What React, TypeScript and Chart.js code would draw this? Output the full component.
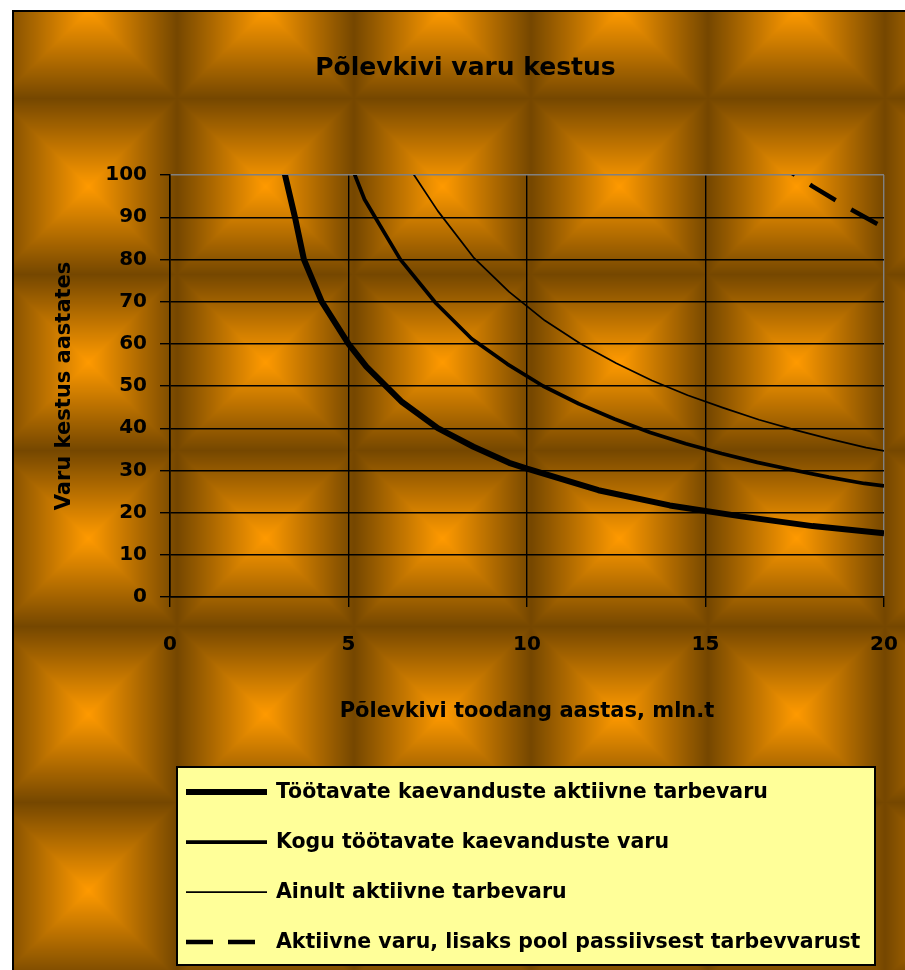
import React, { useEffect, useRef } from 'react';
import { Chart, registerables } from 'chart.js';

Chart.register(...registerables);

// ---------- text ----------
const chartTitle = 'Põlevkivi varu kestus';
const xAxisTitle = 'Põlevkivi toodang aastas, mln.t';
const yAxisTitle = 'Varu kestus aastates';

const seriesLabels = [
  'Töötavate kaevanduste aktiivne tarbevaru',
  'Kogu töötavate kaevanduste varu',
  'Ainult aktiivne tarbevaru',
  'Aktiivne varu, lisaks pool passiivsest tarbevvarust',
];

// ---------- axes ----------
const xMin = 0;
const xMax = 20;
const xStep = 5;
const yMin = 0;
const yMax = 100;
const yStep = 10;

// ---------- data (production mln t/year -> years) ----------
const activeMinesX = [3.0, 3.5, 3.75, 4.25, 5, 5.5, 6.5, 7.5, 8.5, 9.5, 10, 12, 14, 16, 18, 20];
const activeMinesY = [108, 90, 80, 70, 60, 54.6, 46.2, 40, 35.6, 31.8, 30.4, 25.3, 21.7, 19.1, 16.8, 15.1];

const totalMinesX = [5.0, 5.45, 6.45, 7.45, 8.45, 9.45, 10.45, 11.45, 12.45, 13.45, 14.45, 15.45, 16.45, 17.45, 18.45, 19.45, 20];
const totalMinesY = [103.8, 94.2, 80, 69.6, 61.2, 55.2, 50, 45.8, 42.2, 39, 36.3, 34, 31.9, 30.1, 28.4, 26.9, 26.3];

const activeOnlyX = [6.5, 7.5, 8.5, 9.5, 10.5, 11.5, 12.5, 13.5, 14.5, 15.5, 16.5, 17.5, 18.5, 19.5, 20];
const activeOnlyY = [104.3, 91.5, 80.5, 72.3, 65.5, 60, 55.4, 51.3, 47.8, 44.8, 42, 39.6, 37.4, 35.4, 34.6];

const activePlusHalfX = [17, 18, 19, 20];
const activePlusHalfY = [102.8, 97.3, 92.2, 87.5];

// ---------- styling ----------
const FONT = "'DejaVu Sans', sans-serif";
const W = 893;
const H = 960;

function zip(xs: number[], ys: number[]) {
  return xs.map((x, i) => ({ x, y: ys[i] }));
}

let bgCache: ImageData | null = null;

const backgroundPlugin = {
  id: 'texturedBackground',
  beforeDraw(chart: any) {
    const ctx: CanvasRenderingContext2D = chart.ctx;
    const w = chart.width;
    const h = chart.height;
    if (!bgCache || bgCache.width !== w || bgCache.height !== h) {
      const img = ctx.createImageData(w, h);
      const d = img.data;
      const px = 177;
      const py = 176;
      const cx0 = 76;
      const cy0 = 0;
      const bright = [255, 154, 0];
      const dark = [117, 71, 0];
      for (let y = 0; y < h; y++) {
        let dy = (((y - cy0) % py) + py) % py;
        if (dy > py / 2) dy = py - dy;
        const ty = dy / (py / 2);
        for (let x = 0; x < w; x++) {
          let dx = (((x - cx0) % px) + px) % px;
          if (dx > px / 2) dx = px - dx;
          const tx = dx / (px / 2);
          const f = Math.max(tx, ty);
          const k = (y * w + x) * 4;
          d[k] = bright[0] + (dark[0] - bright[0]) * f;
          d[k + 1] = bright[1] + (dark[1] - bright[1]) * f;
          d[k + 2] = bright[2] + (dark[2] - bright[2]) * f;
          d[k + 3] = 255;
        }
      }
      bgCache = img;
    }
    ctx.putImageData(bgCache, 0, 0);
    ctx.save();
    ctx.fillStyle = '#000';
    ctx.fillRect(0, 0, w, 2);
    ctx.fillRect(0, 0, 2, h);
    ctx.restore();
  },
};

const legendDash = [27, 15];

const legendPlugin = {
  id: 'boxLegend',
  afterDraw(chart: any) {
    const ctx: CanvasRenderingContext2D = chart.ctx;
    const x0 = 165;
    const y0 = 757;
    const bw = 698;
    const bh = 198;
    ctx.save();
    ctx.fillStyle = '#FFFF99';
    ctx.fillRect(x0, y0, bw, bh);
    ctx.strokeStyle = '#000';
    ctx.lineWidth = 2;
    ctx.strokeRect(x0, y0, bw, bh);
    chart.data.datasets.forEach((ds: any, i: number) => {
      const y = y0 + 25 + i * 50;
      ctx.beginPath();
      ctx.setLineDash(ds.borderDash ? legendDash : []);
      ctx.lineDashOffset = 0;
      ctx.lineWidth = ds.borderWidth;
      ctx.strokeStyle = ds.borderColor;
      ctx.lineCap = 'butt';
      ctx.moveTo(x0 + 9, y);
      ctx.lineTo(x0 + 90, y);
      ctx.stroke();
      ctx.setLineDash([]);
      ctx.fillStyle = '#000';
      ctx.font = `bold 20.5px ${FONT}`;
      ctx.textBaseline = 'middle';
      ctx.textAlign = 'left';
      ctx.fillText(ds.label, x0 + 99, y + 1);
    });
    ctx.restore();
  },
};

export default function App() {
  const ref = useRef<HTMLCanvasElement>(null);

  useEffect(() => {
    const common = {
      borderColor: '#000',
      pointRadius: 0,
      pointHoverRadius: 0,
      showLine: true,
      tension: 0,
      fill: false,
      clip: 0,
      borderJoinStyle: 'round',
      borderCapStyle: 'butt',
    };
    const chart = new Chart(ref.current as HTMLCanvasElement, {
      type: 'scatter',
      data: {
        datasets: [
          { ...common, label: seriesLabels[0], data: zip(activeMinesX, activeMinesY), borderWidth: 6 },
          { ...common, label: seriesLabels[1], data: zip(totalMinesX, totalMinesY), borderWidth: 3.75 },
          { ...common, label: seriesLabels[2], data: zip(activeOnlyX, activeOnlyY), borderWidth: 1.75 },
          {
            ...common,
            label: seriesLabels[3],
            data: zip(activePlusHalfX, activePlusHalfY),
            borderWidth: 4.5,
            borderDash: [30, 18],
            borderDashOffset: 8.5,
          },
        ] as any,
      },
      options: {
        responsive: false,
        animation: false,
        devicePixelRatio: 1,
        layout: { padding: { left: 35, right: 21, top: 0, bottom: 238 } },
        plugins: {
          legend: { display: false },
          tooltip: { enabled: false },
          title: {
            display: true,
            text: chartTitle,
            color: '#000',
            font: { family: FONT, size: 25, weight: 'bold', lineHeight: 1.2 },
            padding: { top: 43, bottom: 92 },
          },
        },
        scales: {
          x: {
            type: 'linear',
            min: xMin,
            max: xMax,
            afterFit(scale: any) {
              scale.height = 135;
              scale.paddingLeft = 0;
              scale.paddingRight = 0;
            },
            ticks: {
              stepSize: xStep,
              color: '#000',
              padding: 26,
              font: { family: FONT, size: 20, weight: 'bold', lineHeight: 1.2 },
            },
            grid: {
              color: (c: any) => (c.tick && c.tick.value === xMax ? '#808080' : '#000'),
              tickColor: '#000',
              lineWidth: 1.4,
              tickLength: 10,
            },
            border: { display: true, color: '#000', width: 1.5 },
            title: {
              display: true,
              text: xAxisTitle,
              color: '#000',
              font: { family: FONT, size: 21, weight: 'bold', lineHeight: 1.2 },
              padding: { top: 0, bottom: 7.4 },
            },
          },
          y: {
            type: 'linear',
            min: yMin,
            max: yMax,
            afterFit(scale: any) {
              scale.width = 123;
              scale.paddingTop = 0;
              scale.paddingBottom = 0;
            },
            ticks: {
              stepSize: yStep,
              color: '#000',
              padding: 13,
              font: { family: FONT, size: 20, weight: 'bold', lineHeight: 1.2 },
            },
            grid: {
              color: (c: any) => (c.tick && c.tick.value === yMax ? '#808080' : '#000'),
              tickColor: '#000',
              lineWidth: 1.4,
              tickLength: 10,
            },
            border: { display: true, color: '#000', width: 1.5 },
            title: {
              display: true,
              text: yAxisTitle,
              color: '#000',
              font: { family: FONT, size: 21, weight: 'bold', lineHeight: 1.2 },
              padding: { top: 5.4, bottom: 0 },
            },
          },
        },
      } as any,
      plugins: [backgroundPlugin, legendPlugin],
    });
    return () => chart.destroy();
  }, []);

  return (
    <div style={{ position: 'fixed', left: 12, top: 10, width: W, height: H }}>
      <canvas ref={ref} width={W} height={H} style={{ display: 'block', width: W, height: H }} />
    </div>
  );
}
